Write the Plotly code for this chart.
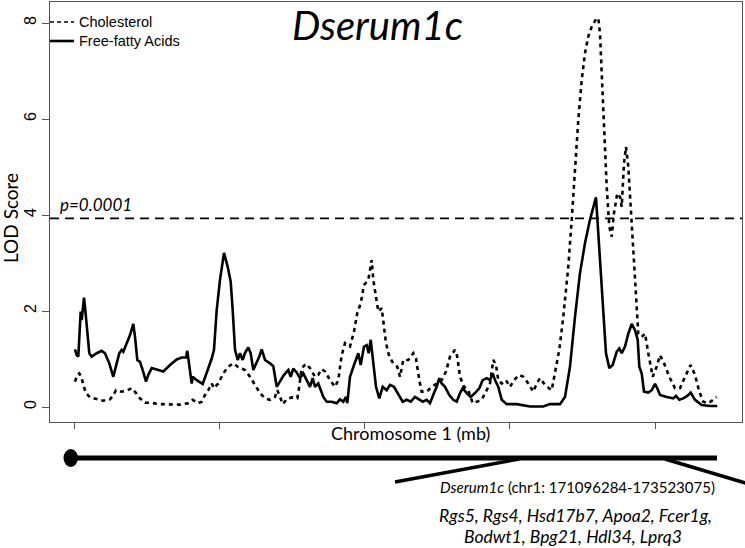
import plotly.graph_objects as go

# ---------------- data (Chromosome 1 position in Mb, LOD score) ----------------
ffa_pos = [0.24, 0.83, 1.38, 2.20, 2.55, 2.89, 3.34, 3.79, 4.27, 5.17, 5.99, 7.71, 9.44, 10.57,
           12.05, 13.43, 14.60, 15.50, 16.32, 16.88, 18.05, 19.18, 20.32, 20.91, 21.70, 22.63,
           23.56, 24.69, 25.49, 26.66, 28.93, 30.65, 32.96, 35.27, 36.99, 38.47, 38.92, 39.85,
           40.43, 40.78, 42.15, 44.22, 45.60, 46.74, 47.32, 48.11, 49.04, 50.18, 51.11, 51.56,
           52.83, 53.86, 54.55, 55.35, 56.28, 57.07, 58.00, 58.79, 59.93, 60.75, 61.65, 62.82,
           63.71, 64.54, 65.68, 67.40, 68.54, 69.71, 70.85, 72.22, 73.70, 74.53, 75.42, 76.59,
           77.73, 78.87, 80.04, 81.17, 82.10, 82.90, 84.03, 85.76, 86.93, 88.65, 90.37, 91.51,
           92.64, 93.57, 94.02, 94.95, 96.33, 97.81, 98.64, 99.77, 100.70, 101.39, 102.08,
           102.77, 103.91, 105.04, 106.21, 107.59, 108.73, 110.10, 111.59, 113.10, 114.48,
           115.86, 117.34, 118.82, 119.99, 121.37, 122.50, 123.88, 124.81, 125.71, 126.53,
           127.67, 129.15, 130.53, 131.70, 132.84, 133.77, 135.14, 136.52, 138.00, 139.48,
           140.65, 142.03, 143.17, 144.10, 144.89, 146.03, 147.20, 148.92, 152.36, 154.64,
           156.94, 160.14, 161.52, 163.83, 167.27, 169.00, 170.72, 172.44, 174.16, 175.88,
           177.60, 179.67, 180.47, 181.29, 182.19, 183.12, 184.26, 185.42, 186.80, 187.70,
           188.53, 189.66, 190.80, 191.97, 193.11, 194.04, 194.59, 195.41, 196.21, 197.69,
           198.86, 200.00, 200.79, 201.72, 204.03, 206.30, 207.23, 208.36, 209.74, 211.12,
           212.29, 213.77, 216.08, 218.94, 221.45]
ffa_lod = [1.20, 1.08, 1.05, 1.99, 1.81, 2.02, 2.28, 2.02, 1.67, 1.12, 1.05, 1.12, 1.17, 1.12,
           0.91, 0.63, 0.91, 1.12, 1.19, 1.15, 1.33, 1.50, 1.73, 1.46, 0.98, 0.94,
           0.77, 0.53, 0.67, 0.81, 0.77, 0.74, 0.875, 0.99, 1.03, 1.03, 1.17, 0.70,
           0.49, 0.63, 0.56, 0.48, 0.70, 0.91, 1.01, 1.19, 2.02, 2.65, 2.99, 3.21,
           2.92, 2.61, 2.02, 1.19, 0.98, 1.12, 0.98, 1.13, 1.24, 1.12, 0.77, 0.91,
           1.05, 1.20, 0.98, 0.91, 0.85, 0.42, 0.53, 0.67, 0.77, 0.63, 0.80, 0.72,
           0.60, 0.70, 0.56, 0.42, 0.60, 0.42, 0.49, 0.21, 0.11, 0.11, 0.08, 0.16,
           0.11, 0.21, 0.08, 0.63, 0.875, 1.12, 0.875, 1.26, 1.29, 1.12, 1.40,
           0.98, 0.42, 0.18, 0.42, 0.35, 0.46, 0.42, 0.25, 0.11, 0.15,
           0.11, 0.21, 0.16, 0.11, 0.15, 0.08, 0.29, 0.42, 0.60, 0.49,
           0.42, 0.25, 0.15, 0.11, 0.29, 0.39, 0.29, 0.21, 0.29, 0.39,
           0.56, 0.60, 0.56, 0.70, 0.56, 0.42, 0.15, 0.06, 0.06, 0.04,
           0.01, 0.01, 0.01, 0.06, 0.06, 0.21, 0.84, 1.88, 2.79, 3.41,
           3.90, 4.37, 3.62, 2.79, 1.88, 1.12, 0.81, 0.875, 1.15, 1.22,
           1.12, 1.26, 1.53, 1.73, 1.60, 1.40, 0.84, 0.70, 0.32, 0.30,
           0.35, 0.48, 0.39, 0.25, 0.21, 0.18, 0.23, 0.15, 0.18, 0.23,
           0.30, 0.15, 0.04, 0.02, 0.02]

chol_pos = [0.24, 1.03, 1.72, 2.55, 3.10, 4.03, 5.41, 7.71, 9.99, 12.30, 13.43, 14.36, 16.32,
            18.05, 19.77, 21.25, 22.63, 24.35, 26.07, 29.52, 32.96, 36.41, 39.26, 40.78, 42.71,
            43.88, 45.01, 46.15, 47.32, 48.11, 49.59, 51.32, 53.04, 54.76, 56.48, 58.79, 60.51,
            62.23, 63.95, 65.68, 67.40, 69.12, 69.91, 70.85, 71.77, 73.15, 74.87, 76.80, 77.14,
            78.32, 79.80, 81.17, 82.90, 84.03, 85.21, 86.34, 88.06, 89.78, 90.92, 92.09, 93.23,
            94.95, 96.33, 97.47, 98.64, 99.77, 101.25, 101.84, 102.42, 102.98, 103.91, 104.70,
            105.87, 106.42, 107.35, 108.49, 109.86, 111.24, 112.17, 113.31, 115.03, 116.75,
            117.68, 118.82, 119.64, 121.37, 123.09, 124.81, 126.53, 128.01, 129.39, 131.11,
            131.90, 132.84, 134.21, 135.69, 137.21, 138.59, 140.31, 142.03, 143.17, 144.30,
            145.23, 146.03, 147.20, 148.68, 150.06, 151.43, 153.26, 154.64, 156.36, 158.08,
            159.25, 160.39, 162.11, 164.42, 165.56, 167.03, 168.41, 170.13, 171.31, 172.44,
            173.58, 174.75, 175.88, 177.02, 178.19, 179.67, 180.47, 181.05, 181.64, 182.43,
            183.36, 184.26, 185.08, 185.87, 187.01, 187.94, 188.53, 189.32, 190.01, 190.80,
            191.63, 192.52, 193.45, 194.24, 195.41, 196.55, 197.69, 199.20, 200.58, 201.72,
            203.10, 204.92, 206.88, 208.61, 210.33, 212.29, 213.77, 215.25, 216.63, 218.35,
            220.07, 221.24]
chol_lod = [0.53, 0.67, 0.70, 0.60, 0.46, 0.29, 0.20, 0.16, 0.13, 0.16, 0.25, 0.35, 0.32,
            0.34, 0.39, 0.29, 0.18, 0.09, 0.09, 0.06, 0.05, 0.05, 0.08, 0.15, 0.08,
            0.11, 0.25, 0.35, 0.49, 0.39, 0.49, 0.70, 0.84, 0.91, 0.83, 0.77, 0.63,
            0.46, 0.29, 0.18, 0.15, 0.21, 0.35, 0.21, 0.06, 0.16, 0.20, 0.18, 0.29,
            0.81, 0.90, 0.81, 0.63, 0.67, 0.79, 0.74, 0.56, 0.42, 0.56, 1.08, 1.33,
            1.26, 1.57, 1.96, 2.16, 2.54, 2.65, 2.85, 3.06, 2.65, 2.26, 1.99,
            2.06, 1.74, 1.33, 1.05, 0.91, 0.84, 0.63, 0.98, 0.98, 1.12,
            1.01, 0.56, 0.32, 0.32, 0.42, 0.49, 0.56, 0.74, 1.05, 1.19,
            1.05, 0.63, 0.42, 0.35, 0.08, 0.11, 0.15, 0.35, 0.49, 0.98,
            0.875, 0.56, 0.49, 0.56, 0.42, 0.56, 0.67, 0.63, 0.49, 0.32,
            0.49, 0.60, 0.46, 0.35, 0.70, 1.19, 1.88, 2.92, 3.90, 5.01,
            5.98, 6.81, 7.37, 7.72, 7.92, 8.08, 8.10, 7.78, 6.95, 5.84,
            4.59, 3.76, 3.55, 4.04, 4.45, 4.38, 4.17, 5.08, 5.42, 5.01,
            4.17, 3.06, 2.23, 1.53, 1.46, 1.53, 1.12, 0.63, 0.84, 1.08,
            0.91, 0.63, 0.39, 0.39, 0.63, 0.875, 0.67, 0.32, 0.11, 0.08,
            0.15, 0.21]

threshold = 3.93
threshold_label = "p=0.0001"
x_ticks = [0, 50, 100, 150, 200]
y_ticks = [0, 2, 4, 6, 8]
series_names = ["Cholesterol", "Free-fatty Acids"]
title_text = "Dserum1c"
qtl_text = "<i>Dserum1c</i> (chr1: 171096284-173523075)"
genes_line1 = "Rgs5, Rgs4, Hsd17b7, Apoa2, Fcer1g,"
genes_line2 = "Bodwt1, Bpg21, Hdl34, Lprq3"

# ---------------- layout helpers (pixel -> paper) ----------------
W, H = 745, 548
L, R, T, B = 50, 3, 2, 126
PW, PH = W - L - R, H - T - B


def PX(px):
    return (px - L) / PW


def PY(py):
    return (H - B - py) / PH


CAL = "Lato, 'Open Sans', sans-serif"
ARIAL = "'Liberation Sans', Arial, sans-serif"
CHOL_LINE = dict(color="black", width=2.6, dash="4px,4px")
FFA_LINE = dict(color="black", width=2.6)

fig = go.Figure()
fig.add_trace(go.Scatter(x=chol_pos, y=chol_lod, mode="lines", name=series_names[0],
                         line=CHOL_LINE, showlegend=False))
fig.add_trace(go.Scatter(x=ffa_pos, y=ffa_lod, mode="lines", name=series_names[1],
                         line=FFA_LINE, showlegend=False))

annotations = [
    dict(text=title_text, xref="paper", yref="paper", x=PX(377), y=PY(25), showarrow=False,
         font=dict(family=CAL, size=40, color="black", style="italic"), xanchor="center", yanchor="middle"),
    dict(text=threshold_label, xref="paper", yref="paper", x=PX(58), y=PY(205), showarrow=False,
         font=dict(family=CAL, size=17, color="black", style="italic"), xanchor="left", yanchor="middle"),
    dict(text="LOD Score", xref="paper", yref="paper", x=PX(11), y=PY(218), showarrow=False,
         textangle=-90, font=dict(family=CAL, size=19, color="black"), xanchor="center", yanchor="middle"),
    dict(text="Chromosome 1 (mb)", xref="paper", yref="paper", x=PX(410), y=PY(433), showarrow=False,
         font=dict(family=CAL, size=18, color="black"), xanchor="center", yanchor="middle"),
    dict(text=qtl_text, xref="paper", yref="paper", x=PX(577), y=PY(487), showarrow=False,
         font=dict(family=CAL, size=15, color="black"), xanchor="center", yanchor="middle"),
    dict(text=genes_line1, xref="paper", yref="paper", x=PX(575), y=PY(515), showarrow=False,
         font=dict(family=CAL, size=17.5, color="black", style="italic"), xanchor="center", yanchor="middle"),
    dict(text=genes_line2, xref="paper", yref="paper", x=PX(573), y=PY(536), showarrow=False,
         font=dict(family=CAL, size=17.5, color="black", style="italic"), xanchor="center", yanchor="middle"),
    # legend labels
    dict(text=series_names[0], xref="paper", yref="paper", x=PX(77), y=PY(22), showarrow=False,
         font=dict(family=ARIAL, size=14.5, color="black"), xanchor="left", yanchor="middle"),
    dict(text=series_names[1], xref="paper", yref="paper", x=PX(77), y=PY(41), showarrow=False,
         font=dict(family=ARIAL, size=14.5, color="black"), xanchor="left", yanchor="middle"),
]

fig.update_layout(
    width=W, height=H,
    margin=dict(l=L, r=R, t=T, b=B, pad=0),
    plot_bgcolor="white", paper_bgcolor="white",
    showlegend=False,
    annotations=annotations,
    xaxis=dict(range=[-8.37, 229.96], tickvals=x_ticks, showticklabels=False, ticks="outside",
               ticklen=6, tickcolor="#555", showgrid=False, zeroline=False, showline=True,
               linecolor="#555", linewidth=1, mirror=True),
    yaxis=dict(range=[-0.3125, 8.4375], tickvals=y_ticks, ticks="outside", ticklen=7,
               tickcolor="#555", tickangle=-90, showgrid=False, zeroline=False, showline=True,
               linecolor="#555", linewidth=1, mirror=True,
               tickfont=dict(family=ARIAL, size=16, color="black")),
)

# significance threshold
fig.add_hline(y=threshold, line=dict(color="black", width=1.6, dash="9px,6px"))

# legend samples
fig.add_shape(type="line", xref="paper", yref="paper", x0=PX(50), x1=PX(74), y0=PY(22), y1=PY(22),
              line=dict(color="black", width=1.6, dash="4px,3px"))
fig.add_shape(type="line", xref="paper", yref="paper", x0=PX(50), x1=PX(74), y0=PY(41), y1=PY(41),
              line=dict(color="black", width=2.6))

# chromosome diagram
fig.add_shape(type="line", xref="paper", yref="paper", x0=PX(70), x1=PX(717), y0=PY(458), y1=PY(458),
              line=dict(color="black", width=5))
fig.add_shape(type="circle", xref="paper", yref="paper", x0=PX(63.5), x1=PX(78), y0=PY(449), y1=PY(467),
              fillcolor="black", line=dict(color="black", width=0))
fig.add_shape(type="line", xref="paper", yref="paper", x0=PX(519), x1=PX(395), y0=PY(459), y1=PY(482),
              line=dict(color="black", width=3.5))
fig.add_shape(type="line", xref="paper", yref="paper", x0=PX(665), x1=PX(752), y0=PY(459), y1=PY(485),
              line=dict(color="black", width=3.5))

fig.write_html("out.html", config={"displayModeBar": False},
               post_script="document.body.style.margin='0';")
